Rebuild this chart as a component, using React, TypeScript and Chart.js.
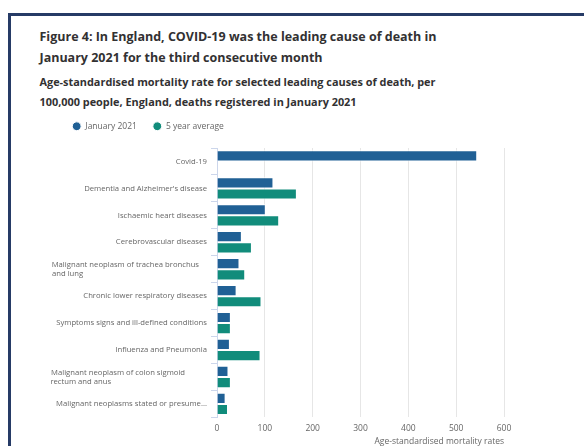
import React, { useEffect, useRef } from "react";
import { Chart, registerables } from "chart.js";

Chart.register(...registerables);

const categories: (string | string[])[] = [
  "Covid-19",
  "Dementia and Alzheimer's disease",
  "Ischaemic heart diseases",
  "Cerebrovascular diseases",
  ["Malignant neoplasm of trachea bronchus", "and lung"],
  "Chronic lower respiratory diseases",
  "Symptoms signs and ill-defined conditions",
  "Influenza and Pneumonia",
  ["Malignant neoplasm of colon sigmoid", "rectum and anus"],
  "Malignant neoplasms stated or presume...",
];

const january2021: (number | null)[] = [544, 118, 102, 52, 47, 41, 29, 27, 24, 18];
const fiveYearAverage: (number | null)[] = [null, 167, 130, 73, 59, 93, 29, 91, 29, 23];

const xTicks = [0, 100, 200, 300, 400, 500, 600];

const FONT = "'Open Sans', 'DejaVu Sans', sans-serif";
const Y_FONT_SIZE = 7.7;
const LABEL_BLOCK_WIDTH = 157;

export default function App() {
  const ref = useRef<HTMLCanvasElement | null>(null);

  useEffect(() => {
    if (!ref.current) return;
    const measureCtx = document.createElement("canvas").getContext("2d")!;
    measureCtx.font = `${Y_FONT_SIZE}px ${FONT}`;
    // Wrapped labels are left-aligned at the start of the label area:
    // pad each line with trailing spaces to the full label-area width.
    const blockLabel = (label: string | string[]) => {
      if (!Array.isArray(label)) return label;
      return label.map((l) => {
        let s = l;
        while (measureCtx.measureText(s + " ").width <= LABEL_BLOCK_WIDTH) s += " ";
        return s;
      });
    };
    const legendFit = {
      id: "legendFit",
      beforeInit(chart: any) {
        const orig = chart.legend.fit;
        chart.legend.fit = function () {
          orig.call(this);
          this.height = 42;
        };
      },
      afterLayout(chart: any) {
        chart.legend.left += 8.3;
      },
    };
    const chart = new Chart(ref.current, {
      type: "bar",
      data: {
        labels: categories,
        datasets: [
          {
            label: "January 2021",
            data: january2021,
            backgroundColor: "#206095",
            borderColor: "#ffffff",
            borderWidth: 1,
            categoryPercentage: 0.83,
            barPercentage: 1,
          },
          {
            label: "5 year average",
            data: fiveYearAverage,
            backgroundColor: "#118c7b",
            borderColor: "#ffffff",
            borderWidth: 1,
            categoryPercentage: 0.83,
            barPercentage: 1,
          },
        ],
      },
      options: {
        indexAxis: "y",
        animation: false,
        responsive: false,
        maintainAspectRatio: false,
        layout: { padding: { left: 28, right: 80, top: 0, bottom: 0 } },
        plugins: {
          legend: {
            position: "top",
            align: "start",
            labels: {
              usePointStyle: true,
              pointStyle: "circle",
              boxHeight: 6.2,
              pointStyleWidth: 8.8,
              padding: 16,
              color: "#666666",
              font: { family: FONT, size: 8.5 },
            },
          },
          tooltip: { enabled: false },
        },
        scales: {
          x: {
            min: 0,
            max: 600,
            afterBuildTicks(scale: any) {
              scale.ticks = xTicks.map((v) => ({ value: v }));
            },
            grid: { color: "#e6e6e6", drawTicks: false, lineWidth: 1 },
            border: { display: false },
            ticks: {
              padding: 5.6,
              color: "#666666",
              font: { family: FONT, size: 8.5 },
            },
            title: {
              display: true,
              text: "Age-standardised mortality rates",
              align: "end",
              color: "#666666",
              font: { family: FONT, size: 8.5 },
              padding: { top: -2, bottom: 4 },
            },
          },
          y: {
            afterFit(scale: any) {
              scale.width = 169;
            },
            grid: {
              drawOnChartArea: false,
              drawTicks: true,
              tickLength: 6,
              color: "#ccd6eb",
              offset: true,
            },
            border: { display: true, color: "#ccd6eb" },
            ticks: {
              padding: 4,
              color: "#666666",
              font: { family: FONT, size: Y_FONT_SIZE },
              autoSkip: false,
              callback: (_v: any, i: number) => blockLabel(categories[i]),
            },
          },
        },
      },
      plugins: [legendFit],
    } as any);
    return () => chart.destroy();
  }, []);

  return (
    <div
      style={{
        position: "fixed",
        left: 0,
        top: 0,
        width: 584,
        height: 446,
        overflow: "hidden",
        background: "#ffffff",
        fontFamily: FONT,
      }}
    >
      <div
        style={{
          position: "absolute",
          left: 8,
          top: 13,
          width: 700,
          height: 600,
          border: "3px solid #263b66",
          boxSizing: "border-box",
        }}
      />
      <div
        style={{
          position: "absolute",
          left: 39.5,
          top: 26.2,
          fontSize: 12.5,
          lineHeight: "21px",
          fontWeight: 700,
          color: "#323132",
          whiteSpace: "nowrap",
        }}
      >
        Figure 4: In England, COVID-19 was the leading cause of death in
        <br />
        January 2021 for the third consecutive month
      </div>
      <div
        style={{
          position: "absolute",
          left: 39.5,
          top: 72.3,
          fontSize: 10.9,
          lineHeight: "20px",
          fontWeight: 700,
          color: "#323132",
          whiteSpace: "nowrap",
        }}
      >
        Age-standardised mortality rate for selected leading causes of death, per
        <br />
        100,000 people, England, deaths registered in January 2021
      </div>
      <canvas
        ref={ref}
        width={564}
        height={345}
        style={{ position: "absolute", left: 20, top: 106, width: 564, height: 345 }}
      />
    </div>
  );
}
